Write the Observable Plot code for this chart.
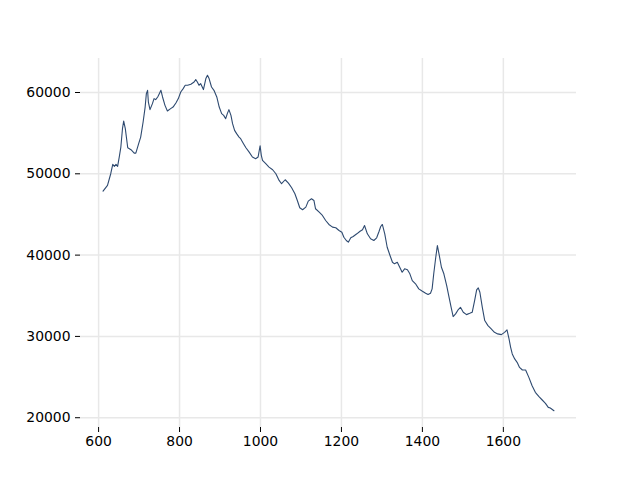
<!DOCTYPE html>
<html>
<head>
<meta charset="utf-8">
<script src="https://cdn.jsdelivr.net/npm/d3@7"></script>
<script src="https://cdn.jsdelivr.net/npm/@observablehq/plot@0.6"></script>
<style>
  html, body { margin: 0; padding: 0; background: #fff; }
  #chart svg { display: block; }
</style>
</head>
<body>
<div id="chart"></div>
<script>
// Wavenumber-like x values and intensity values
const xs = [611,622,630,635,639,643,647,651,655,659,662,666,672,680,688,692,699,704,710,715,718,721,723,727,733,737,741,746,750,754,758,764,770,778,784,791,797,803,809,814,
820,828,836,840,844,848,852,859,865,869,873,879,885,892,898,904,909,914,918,922,927,931,936,941,947,951,958,964,972,980,988,994,999,1002,
1005,1013,1021,1030,1038,1046,1052,1061,1069,1077,1085,1091,1097,1104,1112,1118,1126,1132,1136,1145,1153,1161,1169,1178,1186,1194,1201,1206,1212,1217,1223,
1229,1238,1246,1252,1257,1264,1272,1280,1287,1293,1297,1301,1307,1313,1320,1326,1331,1338,1344,1350,1356,1363,1369,1375,1383,1391,1400,1408,1414,1420,1424,1428,1433,1437,1441,1447,1453,1460,1465,1471,1476,1482,1488,1494,1501,1509,1517,1523,1529,1534,1538,1542,1548,1554,1562,1570,1578,1586,1595,1603,1609,1614,1618,1622,1628,1634,1640,1647,1655,1663,1671,1679,1688,1696,1704,1711,1716,1725];
const ys = [47870,48570,50010,51160,50910,51160,50910,52060,53290,55550,56490,55550,53210,52970,52550,52550,53710,54520,56370,58210,59860,60270,58830,57890,58630,59250,59120,59450,59860,60270,59450,58420,57720,58020,58210,58710,59250,60060,60480,60890,
60890,61010,61290,61590,61290,60890,61100,60360,61710,62120,61710,60680,60270,59450,58210,57400,57190,56780,57400,57890,57190,56170,55340,54940,54520,54320,53710,53210,52670,52060,51860,52060,53450,52270,
51650,51240,50820,50500,50010,49190,48780,49270,48850,48290,47550,46720,45820,45580,45900,46640,46930,46720,45700,45280,44880,44260,43770,43440,43360,43030,42820,42200,41800,41590,42130,
42290,42620,42940,43120,43640,42620,42010,41800,42130,42940,43520,43770,42620,40970,39950,39120,38930,39120,38510,37890,38310,38190,37700,36870,36470,35850,35550,35310,35150,35310,35850,37700,39740,41180,40160,38510,37700,36260,35020,33580,32440,32770,33260,33580,32970,32680,32840,32970,34410,35730,35970,35430,33580,31950,31330,30920,30500,30310,30220,30500,30800,29690,28660,27840,27230,26810,26190,25870,25870,24960,23940,23120,22590,22180,21760,21270,21190,20860];

const xTicks = [600, 800, 1000, 1200, 1400, 1600];
const yTicks = [20000, 30000, 40000, 50000, 60000];

const data = xs.map((x, i) => ({x, y: ys[i]}));

function padded([a, b], f) { const p = (b - a) * f; return [a - p, b + p]; }
const xDomain = padded(d3.extent(xs), 0.05);
const yDomain = padded(d3.extent(ys), 0.05);

const gridColor = "#e8e8e8";

const chart = Plot.plot({
  width: 640,
  height: 480,
  marginLeft: 80,
  marginRight: 64,
  marginTop: 58,
  marginBottom: 53,
  style: {fontFamily: "DejaVu Sans", fontSize: "13.9px", color: "#000", background: "#fff"},
  x: {domain: xDomain},
  y: {domain: yDomain},
  marks: [
    Plot.gridX(xTicks, {stroke: gridColor, strokeOpacity: 1, strokeWidth: 1.5}),
    Plot.gridY(yTicks, {stroke: gridColor, strokeOpacity: 1, strokeWidth: 1.5}),
    Plot.axisX(xTicks, {tickSize: 5, tickPadding: 4, label: null, tickFormat: d3.format("d"), fontSize: 13.9}),
    Plot.axisY(yTicks, {tickSize: 5, tickPadding: 5, label: null, tickFormat: d3.format("d"), fontSize: 13.9}),
    Plot.line(data, {x: "x", y: "y", stroke: "#2e4a70", strokeWidth: 1.1})
  ]
});
document.getElementById("chart").appendChild(chart);
</script>
</body>
</html>
